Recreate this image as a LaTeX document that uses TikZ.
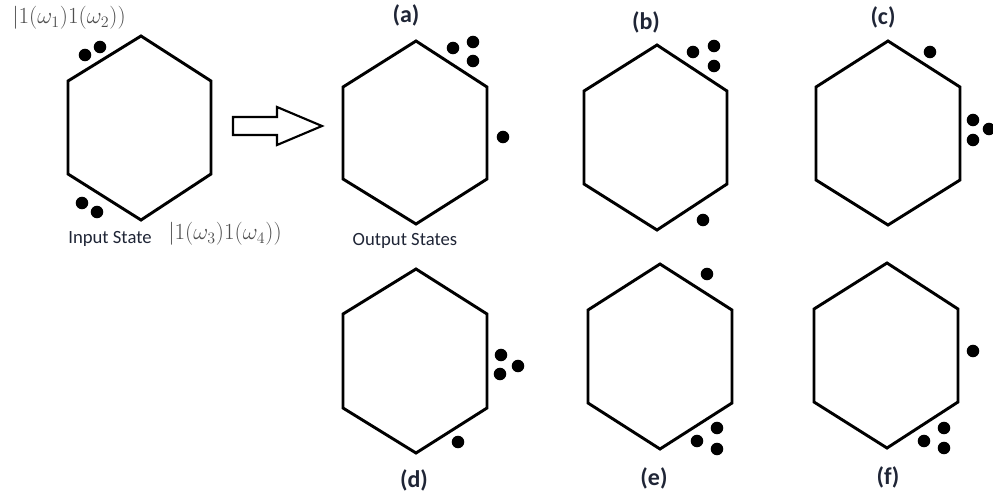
\documentclass[tikz,border=0pt]{standalone}
\usepackage{fontspec}
\setsansfont{Carlito}
\definecolor{labc}{HTML}{1F2536}
\definecolor{mathc}{HTML}{4E4E4E}
\tikzset{
  hexa/.style={draw=black, line width=2.2pt, line join=miter},
  dotn/.style={circle, fill=black, inner sep=0pt, minimum size=9.4pt},
  caseLabel/.style={font=\sffamily\bfseries\fontsize{18}{20}\selectfont, text=labc, inner sep=0pt},
  txtLabel/.style={font=\sffamily\fontsize{14}{16}\selectfont, text=labc, inner sep=0pt},
  ketLabel/.style={font=\fontsize{18.5}{21}\selectfont, text=mathc, inner sep=0pt},
  bigarrow/.style={draw=black, line width=1.6pt, line join=miter}
}
\begin{document}
\begin{tikzpicture}[x=0.75pt,y=-0.75pt]
\useasboundingbox (0,0) rectangle (993,501);
% input hexagon
\draw[hexa] (141,36) -- (211,81) -- (211,174) -- (141,220) -- (68,174) -- (68,81) -- cycle;
\node[dotn] (i1) at (85,55) {};
\node[dotn] (i2) at (100,47) {};
\node[dotn] (i3) at (82,203) {};
\node[dotn] (i4) at (97,212) {};
\node[ketLabel] (k12) at (69,18) {$|1(\omega_1)1(\omega_2))$};
\node[ketLabel] (k34) at (225,234) {$|1(\omega_3)1(\omega_4))$};
\node[txtLabel] (inp) at (110,239) {Input State};
% block arrow
\draw[bigarrow] (233,117) -- (277,117) -- (277,107) -- (322,126) -- (277,145) -- (277,135) -- (233,135) -- cycle;
% (a)
\draw[hexa] (416,41) -- (487,87) -- (487,179) -- (416,224) -- (343,179) -- (343,87) -- cycle;
\node[dotn] (a1) at (453,48) {};
\node[dotn] (a2) at (473,42) {};
\node[dotn] (a3) at (473,61) {};
\node[dotn] (a4) at (503,137) {};
\node[caseLabel] (la) at (406,15) {(a)};
\node[txtLabel] (outp) at (405,241) {Output States};
% (b)
\draw[hexa] (657,45) -- (727,91) -- (727,184) -- (657,230) -- (584,184) -- (584,91) -- cycle;
\node[dotn] (b1) at (693,52) {};
\node[dotn] (b2) at (714,46) {};
\node[dotn] (b3) at (714,66) {};
\node[dotn] (b4) at (703,220) {};
\node[caseLabel] (lb) at (646,22) {(b)};
% (c)
\draw[hexa] (888,41) -- (960,87) -- (960,180) -- (888,225) -- (816,180) -- (816,87) -- cycle;
\node[dotn] (c1) at (930,52) {};
\node[dotn] (c2) at (973,120) {};
\node[dotn] (c3) at (973,140) {};
\node[dotn] (c4) at (989,129) {};
\node[caseLabel] (lc) at (883,17) {(c)};
% (d)
\draw[hexa] (416,269) -- (487,314) -- (487,408) -- (416,453) -- (343,408) -- (343,314) -- cycle;
\node[dotn] (d1) at (501,355) {};
\node[dotn] (d2) at (500,374) {};
\node[dotn] (d3) at (518,366) {};
\node[dotn] (d4) at (458,442) {};
\node[caseLabel] (ld) at (414,480) {(d)};
% (e)
\draw[hexa] (660,264) -- (732,310) -- (732,403) -- (660,449) -- (588,403) -- (588,310) -- cycle;
\node[dotn] (e1) at (707,274) {};
\node[dotn] (e2) at (697,441) {};
\node[dotn] (e3) at (717,428) {};
\node[dotn] (e4) at (717,449) {};
\node[caseLabel] (le) at (654,478) {(e)};
% (f)
\draw[hexa] (887,263) -- (958,309) -- (958,402) -- (887,448) -- (814,402) -- (814,309) -- cycle;
\node[dotn] (f1) at (973,351) {};
\node[dotn] (f2) at (924,441) {};
\node[dotn] (f3) at (944,428) {};
\node[dotn] (f4) at (944,448) {};
\node[caseLabel] (lf) at (888,477) {(f)};
\end{tikzpicture}
\end{document}
